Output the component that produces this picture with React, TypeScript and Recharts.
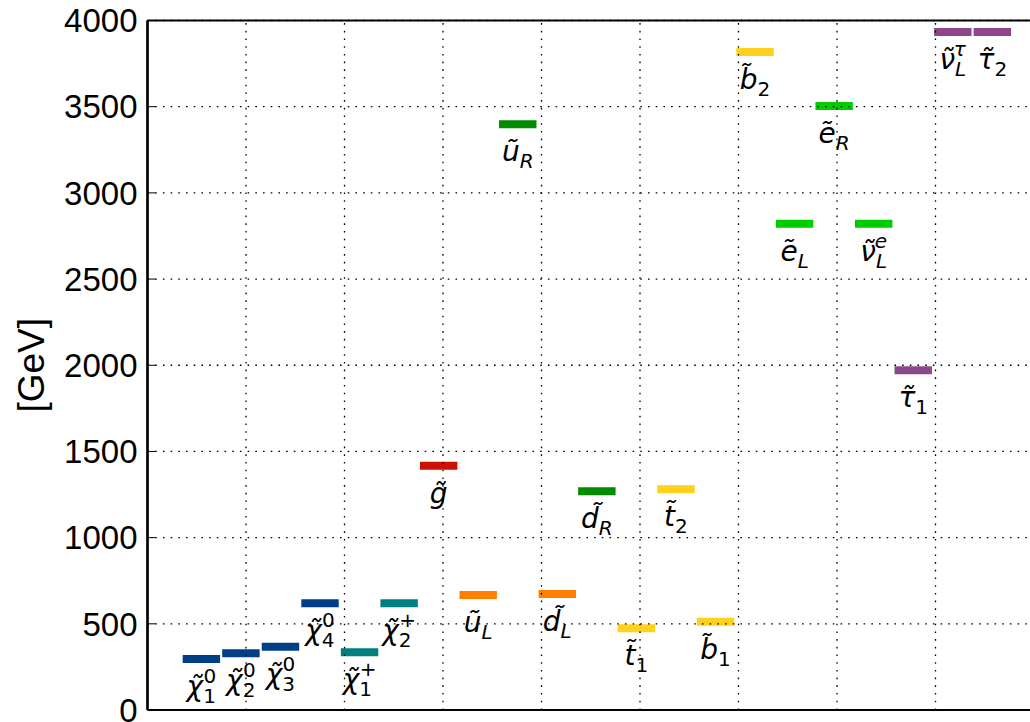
import React from 'react';
import {
  ComposedChart,
  Line,
  Scatter,
  XAxis,
  YAxis,
  CartesianGrid,
  ReferenceLine,
} from 'recharts';

// Sparticle spectrum (masses in GeV), left to right
const bases = ['χ', 'χ', 'χ', 'χ', 'χ', 'χ', 'g', 'u', 'u', 'd', 'd', 't', 't', 'b', 'b', 'e', 'e', 'ν', 'τ', 'ν', 'τ'];
const subs = ['1', '2', '3', '4', '1', '2', '', 'L', 'R', 'L', 'R', '1', '2', '1', '2', 'L', 'R', 'L', '1', 'L', '2'];
const sups = ['0', '0', '0', '0', '+', '+', '', '', '', '', '', '', '', '', '', '', '', 'e', '', 'τ', ''];
const masses = [296, 329, 367, 619, 335, 619, 1417, 667, 3398, 673, 1269, 474, 1280, 512, 3817, 2821, 3504, 2821, 1971, 3933, 3933];
const groups = ['neu', 'neu', 'neu', 'neu', 'cha', 'cha', 'glu', 'sqL', 'sqR', 'sqL', 'sqR', 'sq3', 'sq3', 'sq3', 'sq3', 'slep', 'slep', 'slep', 'stau', 'stau', 'stau'];

const yTicks = [0, 500, 1000, 1500, 2000, 2500, 3000, 3500, 4000];
const xTicks = [0, 1, 2, 3, 4, 5, 6, 7, 8, 9];

const COLORS: Record<string, string> = {
  neu: '#003f87',
  cha: '#008080',
  glu: '#cc1100',
  sqL: '#ff8000',
  sqR: '#008b00',
  sq3: '#ffd11a',
  slep: '#00cc00',
  stau: '#8b4789',
};

// slot layout along the x axis
const FIRST = 0.357;
const SLOT = 0.4015;
const BAR_W = 0.38;

const bars = masses.map((m, i) => [
  { x: FIRST + i * SLOT, m },
  { x: FIRST + i * SLOT + BAR_W, m },
]);

const labels = masses.map((m, i) => ({
  x: FIRST + i * SLOT + BAR_W / 2,
  m,
  base: bases[i],
  sub: subs[i],
  sup: sups[i],
}));

const LABEL_FONT = "'DejaVu Sans', sans-serif";
const TICK_FONT = "'Liberation Sans', sans-serif";
const BASE_FS = 28;
const SCRIPT_FS = 20;

// digits and signs stay upright, letters are slanted
const scriptStyle = (s: string) => (/^[0-9+]+$/.test(s) ? 'normal' : 'italic');

function ParticleLabel(props: any) {
  const { cx, cy, payload } = props;
  if (cx == null || cy == null) return null;
  const { base, sub, sup } = payload;
  const subW = sub.length * 0.62 * SCRIPT_FS;
  return (
    <text
      x={cx}
      y={cy + 37}
      textAnchor="middle"
      fontFamily={LABEL_FONT}
      fontSize={BASE_FS}
      fill="#000"
    >
      <tspan fontStyle="italic">{base + '\u0303'}</tspan>
      {sub && (
        <tspan fontSize={SCRIPT_FS} fontStyle={scriptStyle(sub)} dy={7}>
          {sub}
        </tspan>
      )}
      {sup && (
        <tspan
          fontSize={SCRIPT_FS}
          fontStyle={scriptStyle(sup)}
          dx={sub ? -subW : 1}
          dy={sub ? -20 : -13}
        >
          {sup}
        </tspan>
      )}
    </text>
  );
}

const axisLine = { stroke: '#000', strokeWidth: 2.2 };
const tickLine = { stroke: '#000', strokeWidth: 1 };

export default function App() {
  return (
    <div
      style={{
        position: 'absolute',
        left: 0,
        top: 0,
        width: 1030,
        height: 722,
        overflow: 'hidden',
        background: '#fff',
      }}
    >
      <ComposedChart
        width={1045}
        height={722}
        margin={{ top: 19.5, right: 11, bottom: 11, left: 0 }}
      >
        <XAxis
          xAxisId={0}
          dataKey="x"
          type="number"
          domain={[0, 9]}
          ticks={xTicks}
          tick={false}
          tickSize={-8}
          height={1}
          interval={0}
          axisLine={axisLine}
          tickLine={tickLine}
          allowDataOverflow
        />
        <XAxis
          xAxisId="top"
          orientation="top"
          dataKey="x"
          type="number"
          domain={[0, 9]}
          ticks={xTicks}
          tick={false}
          tickSize={-8}
          height={1}
          interval={0}
          axisLine={axisLine}
          tickLine={tickLine}
          allowDataOverflow
        />
        <YAxis
          dataKey="m"
          type="number"
          domain={[0, 4000]}
          ticks={yTicks}
          interval={0}
          width={147.5}
          tickSize={-8}
          tickMargin={18}
          axisLine={axisLine}
          tickLine={tickLine}
          tick={{ fill: '#000', fontSize: 33, fontFamily: TICK_FONT }}
          label={{
            value: '[GeV]',
            angle: -90,
            position: 'insideLeft',
            dx: 26,
            style: { fontSize: 37, fill: '#000', fontFamily: TICK_FONT, textAnchor: 'middle' },
          }}
        />
        {bars.map((d, i) => (
          <Line
            key={i}
            data={d}
            dataKey="m"
            type="linear"
            stroke={COLORS[groups[i]]}
            strokeWidth={8}
            dot={false}
            activeDot={false}
            isAnimationActive={false}
          />
        ))}
        <Scatter
          data={labels}
          dataKey="m"
          shape={<ParticleLabel />}
          isAnimationActive={false}
        />
        <CartesianGrid
          vertical={false}
          stroke="#000"
          strokeWidth={1.3}
          strokeDasharray="1.6 6.1"
          zIndex={600}
        />
        {/* vertical dotted grid */}
        {xTicks.slice(1, -1).map((t) => (
          <ReferenceLine
            key={t}
            x={t}
            stroke="#000"
            strokeWidth={1.3}
            strokeDasharray="1.6 6.1"
            zIndex={600}
          />
        ))}
        {/* left spine */}
        <ReferenceLine x={0} stroke="#000" strokeWidth={2.2} zIndex={700} />
      </ComposedChart>
    </div>
  );
}
